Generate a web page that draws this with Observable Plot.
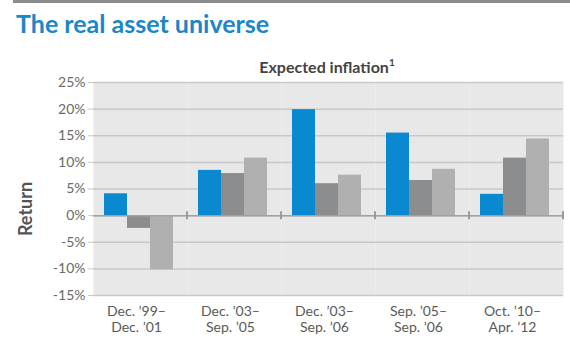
<!DOCTYPE html>
<html>
<head>
<meta charset="utf-8">
<script src="https://cdn.jsdelivr.net/npm/d3@7"></script>
<script src="https://cdn.jsdelivr.net/npm/@observablehq/plot@0.6"></script>
<style>
  html, body { margin: 0; padding: 0; background: #fff; }
  #root { position: relative; width: 570px; height: 355px; overflow: hidden; font-family: Lato, "Open Sans", sans-serif; }
  #toprule { position: absolute; left: 13px; top: 0; width: 557px; height: 3px; background: #8d8d8d; }
  #title { position: absolute; left: 16px; top: 11px; font-size: 25px; line-height: 25px; font-weight: 700; color: #1a87c9; white-space: nowrap; }
  #subtitle { position: absolute; left: 0; width: 654px; top: 55px; text-align: center; font-size: 16px; line-height: 16px; font-weight: 700; color: #444; white-space: nowrap; }
  #subtitle sup { font-size: 10px; position: relative; top: -1px; }
  #ylabel { position: absolute; left: 25px; top: 209px; transform: translate(-50%, -50%) rotate(-90deg); font-size: 18px; font-weight: 700; color: #555; white-space: nowrap; }
  #chart { position: absolute; left: 0; top: 70px; }
</style>
</head>
<body>
<div id="root">
  <div id="toprule"></div>
  <div id="title">The real asset universe</div>
  <div id="subtitle">Expected inflation<sup>1</sup></div>
  <div id="ylabel">Return</div>
  <div id="chart"></div>
</div>
<script>
const categories = ["Dec. ’99–\nDec. ’01", "Dec. ’03–\nSep. ’05", "Dec. ’03–\nSep. ’06", "Sep. ’05–\nSep. ’06", "Oct. ’10–\nApr. ’12"];
const seriesNames = ["Series 1", "Series 2", "Series 3"];
const series1 = [4.1, 8.5, 19.9, 15.5, 4.0];
const series2 = [-2.4, 7.9, 6.0, 6.6, 10.8];
const series3 = [-10.2, 10.8, 7.6, 8.7, 14.4];
const yTicks = [-15, -10, -5, 0, 5, 10, 15, 20, 25];
const colors = ["#0a88d0", "#8b8d8f", "#b0b0b0"];

const allSeries = [series1, series2, series3];
const data = [];
categories.forEach((c, i) => {
  seriesNames.forEach((s, j) => data.push({period: c, series: s, value: allSeries[j][i]}));
});

const boundaryTicks = (index, scales, values, dims) => {
  const r = scales.x.range();
  const xr = Math.max(...r);
  const y0 = scales.y(0);
  const line = document.createElementNS("http://www.w3.org/2000/svg", "line");
  line.setAttribute("x1", xr); line.setAttribute("x2", xr);
  line.setAttribute("y1", y0 - 4); line.setAttribute("y2", y0 + 4);
  line.setAttribute("stroke", "#9a9a9a"); line.setAttribute("stroke-width", 2);
  return line;
};

const chart = Plot.plot({
  width: 570,
  height: 285,
  marginTop: 12,
  marginBottom: 60,
  marginLeft: 91,
  marginRight: 5,
  style: {background: "transparent", fontFamily: "Lato, 'Open Sans', sans-serif", fontSize: "14px", color: "#666", overflow: "visible"},
  fx: {domain: categories, paddingInner: 0, paddingOuter: 0, label: null},
  x: {domain: seriesNames, paddingInner: 0, paddingOuter: 0.5, align: 0.45, axis: null},
  y: {domain: [-15, 25], label: null},
  color: {domain: seriesNames, range: colors},
  marks: [
    Plot.frame({fill: "#e8e8e8", stroke: null}),
    Plot.gridY(yTicks, {stroke: "#c8c8c8", strokeOpacity: 1, strokeWidth: 1.5}),
    Plot.barY(data, {fx: "period", x: "series", y: "value", fill: "series"}),
    Plot.ruleY([0], {stroke: "#a0a0a0", strokeWidth: 1.5}),
    boundaryTicks,
    Plot.axisY(yTicks, {tickFormat: d => d + "%", tickSize: 5, tickPadding: 3, stroke: "#c8c8c8", fill: "#6a6a6a", label: null}),
    Plot.axisFx({anchor: "bottom", tickSize: 0, tickPadding: 9, lineHeight: 1.15, label: null, fill: "#5a5a5a", dx: -4})
  ]
});
document.getElementById("chart").appendChild(chart);
</script>
</body>
</html>
